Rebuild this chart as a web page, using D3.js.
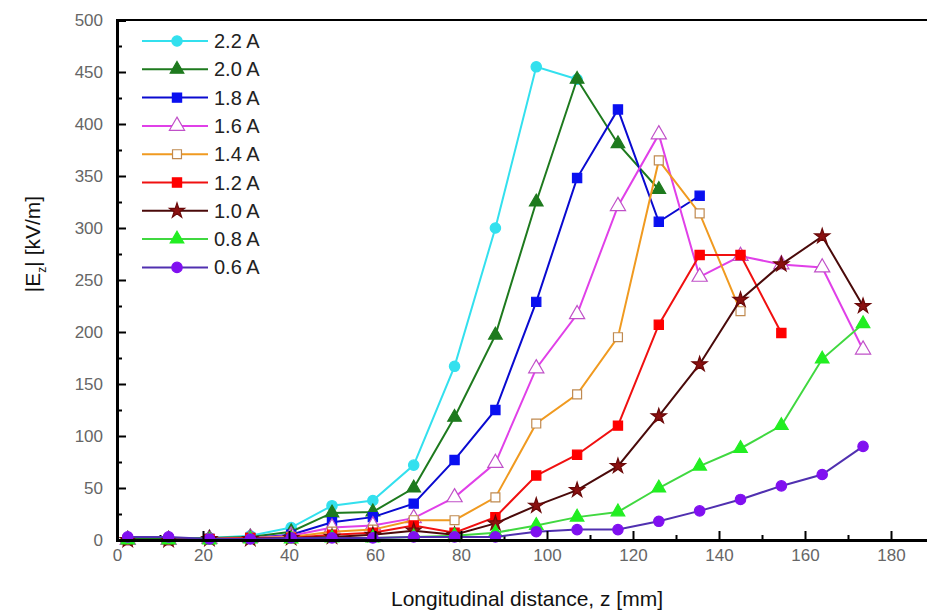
<!DOCTYPE html>
<html>
<head>
<meta charset="utf-8">
<script src="https://cdn.jsdelivr.net/npm/d3@7"></script>
<style>
  body { margin: 0; background: #fff; }
  svg { display: block; font-family: Arial, "Liberation Sans", sans-serif; }
</style>
</head>
<body>
<div id="chart"></div>
<script>
// positions along z (mm)
const zValues = [2.5, 12, 21.5, 31, 40.5, 50, 59.5, 69, 78.5, 88, 97.5, 107, 116.5, 126, 135.5, 145, 154.5, 164, 173.5];

// |Ez| in kV/m for each current
const e22 = [1, 1, 2, 4, 12, 33, 38, 72, 167, 300, 455, 443];
const e20 = [1, 1, 2, 3, 8, 26, 27, 50, 118, 197, 325, 443, 381, 337];
const e18 = [0, 0, 1, 2, 5, 17, 22, 35, 77, 125, 229, 348, 414, 306, 331];
const e16 = [0, 0, 1, 2, 4, 12, 14, 21, 41, 74, 165, 217, 321, 390, 253, 273, 265, 262, 183];
const e14 = [0, 0, 1, 2, 3, 8, 10, 19, 19, 41, 112, 140, 195, 365, 314, 220];
const e12 = [0, 0, 1, 2, 2, 5, 7, 14, 7, 22, 62, 82, 110, 207, 274, 274, 199];
const e10 = [0, 0, 1, 1, 2, 3, 5, 9, 5, 16, 33, 48, 71, 119, 169, 231, 265, 292, 225];
const e08 = [0, 0, 0, 1, 1, 2, 2, 3, 4, 7, 14, 22, 27, 50, 71, 88, 110, 174, 208];
const e06 = [3, 3, 1, 1, 2, 2, 2, 3, 3, 3, 8, 10, 10, 18, 28, 39, 52, 63, 90];

const seriesNames = ["2.2 A", "2.0 A", "1.8 A", "1.6 A", "1.4 A", "1.2 A", "1.0 A", "0.8 A", "0.6 A"];
const seriesValues = [e22, e20, e18, e16, e14, e12, e10, e08, e06];

const xTicks = [0, 20, 40, 60, 80, 100, 120, 140, 160, 180];
const yTicks = [0, 50, 100, 150, 200, 250, 300, 350, 400, 450, 500];

// look of each series
const styles = [
  { line: "#33e0ee", fill: "#33e0ee", stroke: "#33e0ee", shape: d3.symbolCircle, size: 85 },
  { line: "#1e7a1e", fill: "#1e7a1e", stroke: "#1e7a1e", shape: d3.symbolTriangle, size: 80 },
  { line: "#0a0ad0", fill: "#0a10f0", stroke: "#0a10f0", shape: d3.symbolSquare, size: 85 },
  { line: "#e040e8", fill: "#ffffff", stroke: "#c050c8", shape: d3.symbolTriangle, size: 100 },
  { line: "#f09a20", fill: "#ffffff", stroke: "#c08a50", shape: d3.symbolSquare, size: 80 },
  { line: "#f01010", fill: "#ff0000", stroke: "#ff0000", shape: d3.symbolSquare, size: 85 },
  { line: "#4a0a0a", fill: "#8a1010", stroke: "#6a0808", shape: d3.symbolStar, size: 70 },
  { line: "#40d840", fill: "#22ee22", stroke: "#22ee22", shape: d3.symbolTriangle, size: 80 },
  { line: "#5030b0", fill: "#8010f0", stroke: "#8010f0", shape: d3.symbolCircle, size: 85 }
];

const width = 927;
const height = 614;
const marginLeft = 117;
const marginTop = 20;
const plotRight = 934;
const plotBottom = 540;

const svg = d3.select("#chart")
  .append("svg")
  .attr("width", width)
  .attr("height", height);

const x = d3.scaleLinear().domain([0, 190]).range([marginLeft, plotRight]);
const y = d3.scaleLinear().domain([0, 500]).range([plotBottom, marginTop]);

// top frame line
svg.append("line")
  .attr("x1", marginLeft).attr("x2", plotRight)
  .attr("y1", marginTop).attr("y2", marginTop)
  .attr("stroke", "#000").attr("stroke-width", 2);

// minor ticks
svg.append("g")
  .attr("transform", `translate(0,${plotBottom})`)
  .call(d3.axisBottom(x).tickValues(d3.range(10, 190, 20)).tickSize(-5).tickFormat(""))
  .call(g => g.select(".domain").remove())
  .selectAll("line").attr("stroke", "#000").attr("stroke-width", 2);

svg.append("g")
  .attr("transform", `translate(${marginLeft},0)`)
  .call(d3.axisLeft(y).tickValues(d3.range(25, 500, 50)).tickSize(-5).tickFormat(""))
  .call(g => g.select(".domain").remove())
  .selectAll("line").attr("stroke", "#000").attr("stroke-width", 2);

// series lines and markers
const line = d3.line()
  .x((d, i) => x(zValues[i]))
  .y(d => y(d));

seriesValues.forEach((vals, k) => {
  const st = styles[k];
  const g = svg.append("g");
  g.append("path")
    .datum(vals)
    .attr("fill", "none")
    .attr("stroke", st.line)
    .attr("stroke-width", 2)
    .attr("d", line);
  g.selectAll("path.mk")
    .data(vals)
    .enter()
    .append("path")
    .attr("class", "mk")
    .attr("transform", (d, i) => `translate(${x(zValues[i])},${y(d)})`)
    .attr("d", d3.symbol().type(st.shape).size(st.size))
    .attr("fill", st.fill)
    .attr("stroke", st.stroke)
    .attr("stroke-width", 1.2);
});

// main axes
const xAxis = svg.append("g")
  .attr("transform", `translate(0,${plotBottom})`)
  .call(d3.axisBottom(x).tickValues(xTicks).tickSize(-9).tickPadding(9));
xAxis.select(".domain").attr("stroke", "#000").attr("stroke-width", 3);
xAxis.selectAll("line").attr("stroke", "#000").attr("stroke-width", 2);
xAxis.selectAll("text")
  .style("font-size", "17px")
  .style("font-family", "Arial, 'Liberation Sans', sans-serif")
  .attr("fill", "#666");

const yAxis = svg.append("g")
  .attr("transform", `translate(${marginLeft},0)`)
  .call(d3.axisLeft(y).tickValues(yTicks).tickSize(-9).tickPadding(14));
yAxis.select(".domain").attr("stroke", "#000").attr("stroke-width", 3);
yAxis.selectAll("line").attr("stroke", "#000").attr("stroke-width", 2);
yAxis.selectAll("text")
  .style("font-size", "17px")
  .style("font-family", "Arial, 'Liberation Sans', sans-serif")
  .attr("fill", "#666");

// axis titles
svg.append("text")
  .attr("x", 527)
  .attr("y", 606)
  .attr("text-anchor", "middle")
  .style("font-size", "21px")
  .attr("fill", "#111")
  .text("Longitudinal distance, z [mm]");

const yTitle = svg.append("text")
  .attr("transform", "translate(40,244) rotate(-90)")
  .attr("text-anchor", "middle")
  .style("font-size", "21px")
  .attr("fill", "#111");
yTitle.append("tspan").text("|E");
yTitle.append("tspan").attr("dy", 6).style("font-size", "12px").text("z");
yTitle.append("tspan").attr("dy", -6).text("| [kV/m]");

// legend
const legend = svg.append("g");
seriesNames.forEach((name, k) => {
  const st = styles[k];
  const ly = 41 + k * 28.3;
  legend.append("line")
    .attr("x1", 142).attr("x2", 208)
    .attr("y1", ly).attr("y2", ly)
    .attr("stroke", st.line).attr("stroke-width", 2);
  legend.append("path")
    .attr("transform", `translate(177,${ly})`)
    .attr("d", d3.symbol().type(st.shape).size(st.size))
    .attr("fill", st.fill)
    .attr("stroke", st.stroke)
    .attr("stroke-width", 1.2);
  legend.append("text")
    .attr("x", 214)
    .attr("y", ly + 7)
    .style("font-size", "20px")
    .attr("fill", "#222")
    .text(name);
});
</script>
</body>
</html>
